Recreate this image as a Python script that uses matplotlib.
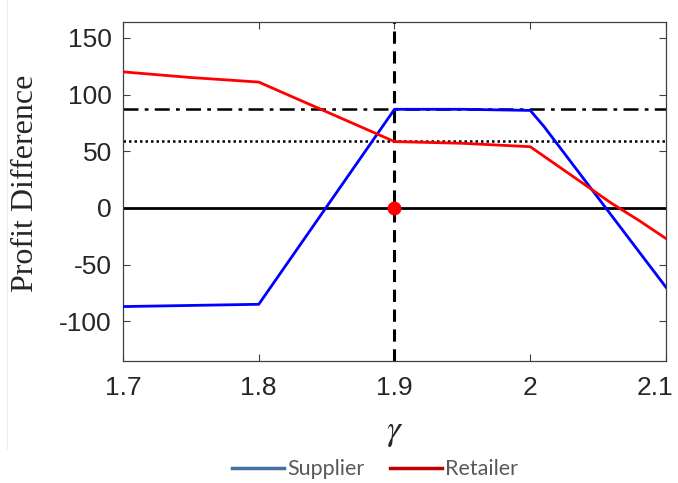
import numpy as np
import matplotlib
matplotlib.use('Agg')
import matplotlib.pyplot as plt
from matplotlib.lines import Line2D
from matplotlib.ticker import FuncFormatter
from matplotlib.transforms import ScaledTranslation

# data
supplier_x = [1.70, 1.75, 1.80, 1.90, 1.95, 2.00, 2.01, 2.10]
supplier_y = [-87, -86, -85, 87, 87, 86, 72, -70]

retailer_x = [1.70, 1.75, 1.80, 1.90, 1.95, 2.00, 2.06, 2.08, 2.10]
retailer_y = [120, 115, 111, 58.5, 57, 54, 4, -11, -27]

gamma_star = 1.9
supplier_level = 87
retailer_level = 59

x_ticks = [1.7, 1.8, 1.9, 2.0, 2.1]
y_ticks = [-100, -50, 0, 50, 100, 150]

plt.rcParams['mathtext.fontset'] = 'stix'
plt.rcParams['font.family'] = ['Liberation Sans', 'DejaVu Sans']
plt.rcParams['axes.unicode_minus'] = False

fig = plt.figure(figsize=(6.78, 4.83), dpi=100)
ax = fig.add_axes([0.1814, 0.2526, 0.8009, 0.7019])

ax.axhline(0, color='k', lw=2, zorder=2)
ax.axhline(supplier_level, color='k', lw=1.8, linestyle=(0, (6, 2.5, 1.5, 2.5)), zorder=2)
ax.axhline(retailer_level, color='k', lw=1.8, linestyle=(0, (1, 1.2)), zorder=2)
ax.axvline(gamma_star, color='k', lw=2.2, linestyle=(0, (4, 2.5)), zorder=2)

ax.plot(supplier_x, supplier_y, color='#0000FF', lw=2, zorder=3)
ax.plot(retailer_x, retailer_y, color='#FF0000', lw=2, zorder=3)
ax.plot([gamma_star], [0], 'o', color='#FF0000', markersize=9, zorder=4)

ax.set_xlim(1.7, 2.1)
ax.set_ylim(-135, 164)
ax.set_xticks(x_ticks)
ax.set_yticks(y_ticks)
ax.xaxis.set_major_formatter(FuncFormatter(lambda v, p: '%g' % round(v, 2)))

ax.tick_params(direction='in', length=5, width=0.8, color='#404040',
               top=True, right=True, labelsize=19, labelcolor='#262626')
ax.tick_params(axis='x', pad=11)
ax.tick_params(axis='y', pad=8)
for s in ax.spines.values():
    s.set_color('#404040')
    s.set_linewidth(0.9)

# last x label sits at the figure edge, nudge it in so it is not clipped
last = ax.xaxis.get_major_ticks()[-1].label1
last.set_transform(last.get_transform() + ScaledTranslation(-8 / 72, 0, fig.dpi_scale_trans))

ax.set_ylabel('Profit Difference', fontfamily='Liberation Serif', fontsize=23,
              color='#262626')
ax.yaxis.set_label_coords(-0.152, 0.524)
ax.set_xlabel(r'$\gamma$', fontsize=25, color='#262626', labelpad=11)

handles = [Line2D([], [], color='#41719C', lw=2.5),
           Line2D([], [], color='#C00000', lw=2.5)]
leg = fig.legend(handles, ['Supplier', 'Retailer'], loc='center',
                 bbox_to_anchor=(0.553, 0.028), ncol=2, frameon=False,
                 handlelength=2.4, handletextpad=0.15, columnspacing=1.2,
                 prop={'family': 'Lato', 'size': 15.5})
for t in leg.get_texts():
    t.set_color('#595959')

# faint frame edge visible in the original screenshot
fig.add_artist(Line2D([0.0105, 0.0105], [0.07, 1.0], color='#eeeeee', lw=0.8,
                      transform=fig.transFigure))

fig.savefig('out.png', dpi=100)
